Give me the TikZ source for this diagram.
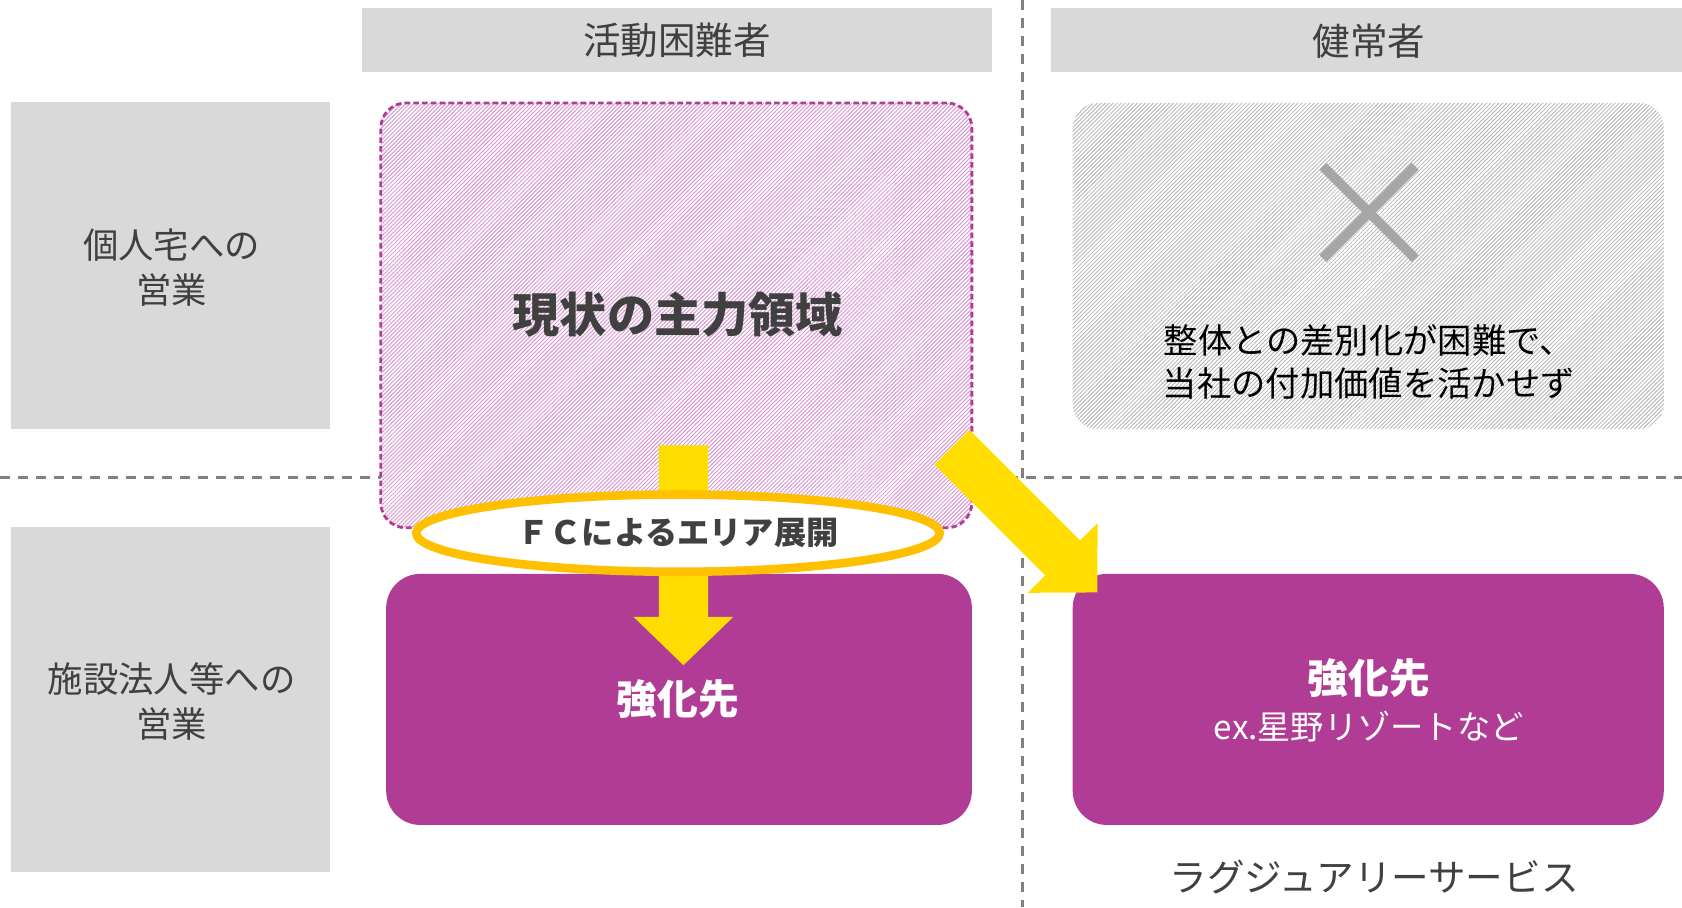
\documentclass[tikz,border=0pt]{standalone}
\usepackage{fontspec}
\setmainfont{Noto Sans CJK JP}
\usetikzlibrary{patterns.meta,shapes.geometric}
\definecolor{hdrgray}{HTML}{D9D9D9}
\definecolor{txtgray}{HTML}{404040}
\definecolor{purp}{HTML}{B03C96}
\definecolor{pinkline}{HTML}{D898D2}
\definecolor{grayline}{HTML}{B4B4B4}
\definecolor{ylw}{HTML}{FFDD00}
\definecolor{orng}{HTML}{FFC000}
\definecolor{xgray}{HTML}{A6A6A6}
\definecolor{dashgray}{HTML}{808080}
\begin{document}
\begin{tikzpicture}[x=1pt,y=1pt,scale=1.0727,
  every node/.append style={transform shape},
  hdr/.style={fill=hdrgray, inner sep=0pt, outer sep=0pt},
  lbl/.style={text=txtgray, font=\fontsize{17.5}{21}\selectfont, align=center, inner sep=0pt},
  rowlbl/.style={text=txtgray, font=\fontsize{16.5}{21}\selectfont, align=center, inner sep=0pt},
  divider/.style={draw=dashgray, line width=1.3pt, dash pattern=on 5pt off 4pt},
  hatchpink/.style={preaction={fill=white}, pattern={Lines[angle=45,distance=1.42pt,line width=0.5pt]}, pattern color=pinkline,
     draw=purp, line width=1.4pt, dash pattern=on 2.8pt off 1.6pt, rounded corners=12.5pt, inner sep=0pt, outer sep=0pt},
  hatchgray/.style={preaction={fill=white}, pattern={Lines[angle=45,distance=1.42pt,line width=0.42pt]}, pattern color=grayline,
     rounded corners=12.5pt, inner sep=0pt, outer sep=0pt},
  purpbox/.style={fill=purp, rounded corners=17pt, inner sep=0pt, outer sep=0pt},
  whitebold/.style={text=white, font=\bfseries\fontsize{19}{22}\selectfont, inner sep=0pt},
  yarrow/.style={fill=ylw}
]
\useasboundingbox (0,0) rectangle (784,-422.8);

% dividers
\coordinate (vtop) at (476.5,0);
\coordinate (vbot) at (476.5,-422.8);
\coordinate (hleft) at (0,-222.5);
\coordinate (hright) at (784,-222.5);
\draw[divider] (vtop) -- (vbot);
\draw[divider] (hleft) -- (hright);

% column headers
\node[hdr, minimum width=294pt, minimum height=30pt] (colA) at (315.5,-18.5) {};
\node[lbl] (colAt) at (315.5,-19) {活動困難者};
\node[hdr, minimum width=320pt, minimum height=30pt] (colB) at (650,-18.5) {};
\node[lbl] (colBt) at (638,-19) {健常者};

% row headers
\node[hdr, minimum width=149pt, minimum height=152.5pt] (rowA) at (79.5,-123.75) {};
\node[rowlbl] (rowAt) at (80,-124.5) {個人宅への\\営業};
\node[hdr, minimum width=149pt, minimum height=161pt] (rowB) at (79.5,-326) {};
\node[rowlbl] (rowBt) at (80,-327) {施設法人等への\\営業};

% hatched boxes
\node[hatchpink, minimum width=275.5pt, minimum height=198pt] (main) at (315.25,-147) {};
\node[hatchgray, minimum width=275.5pt, minimum height=152pt] (ng) at (637.75,-124) {};

% purple boxes
\node[purpbox, minimum width=273pt, minimum height=117pt] (strA) at (316.5,-326) {};
\node[purpbox, minimum width=275.5pt, minimum height=117pt] (strB) at (637.75,-326) {};

% cross mark
\coordinate (xc) at (638,-99);
\draw[xgray, line width=4.8pt] ([shift={(-21.5,21.5)}]xc) -- ([shift={(21.5,-21.5)}]xc);
\draw[xgray, line width=4.8pt] ([shift={(21.5,21.5)}]xc) -- ([shift={(-21.5,-21.5)}]xc);
\node[text=black, font=\fontsize{16}{20}\selectfont, align=center, inner sep=0pt] (ngt) at (638,-168.5)
  {整体との差別化が困難で、\\当社の付加価値を活かせず};

\node[text=txtgray, font=\bfseries\fontsize{22}{26}\selectfont, inner sep=0pt] (maint) at (316,-146.5) {現状の主力領域};

% down arrow
\coordinate (d1) at (318.5,-207.5);
\begin{scope}[shift={(d1)}]
  \fill[yarrow] (-11.5,0) -- (11.5,0) -- (11.5,-80) -- (23.25,-80) -- (0,-102.5) -- (-23.25,-80) -- (-11.5,-80) -- cycle;
\end{scope}

% diagonal arrow
\coordinate (d2) at (495.25,-260);
\begin{scope}[shift={(d2)}, rotate=-45]
  \fill[yarrow] (-73,11.5) -- (0,11.5) -- (0,23) -- (22.75,0) -- (0,-23) -- (0,-11.5) -- (-73,-11.5) -- cycle;
\end{scope}

% ellipse
\node[ellipse, draw=orng, line width=4.3pt, fill=white, minimum width=244pt, minimum height=36pt, inner sep=0pt,
      text=txtgray, font=\bfseries\fontsize{15}{18}\selectfont] (fc) at (316,-248.5) {ＦＣによるエリア展開};

% purple box texts
\node[whitebold] (strAt) at (316,-326) {強化先};
\node[whitebold] (strBt) at (638,-316) {強化先};
\node[text=white, font=\fontsize{15.5}{18}\selectfont, inner sep=0pt] (strBs) at (638,-338.5) {ex.星野リゾートなど};

\node[lbl] (lux) at (640.5,-409) {ラグジュアリーサービス};
\end{tikzpicture}
\end{document}
